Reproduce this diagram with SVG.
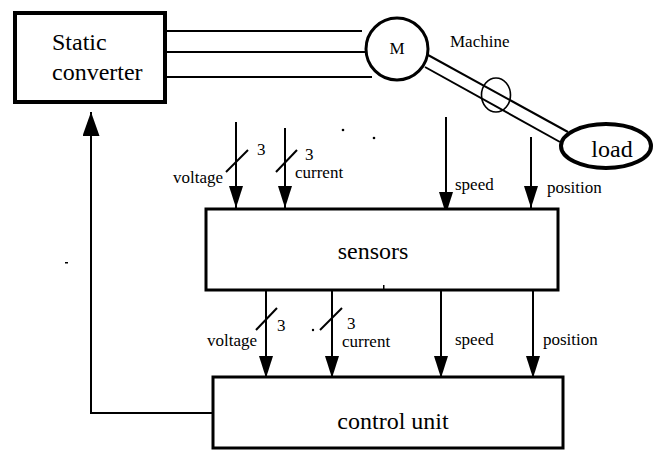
<svg xmlns="http://www.w3.org/2000/svg" width="654" height="450" viewBox="0 0 654 450">
<style>
.box{fill:#fff;stroke:#000}
.ln{stroke:#000;stroke-width:2;fill:none}
.big{font-family:"Liberation Serif","DejaVu Serif","Times New Roman",serif;font-size:24px;fill:#000}
.sm{font-family:"Liberation Serif","DejaVu Serif","Times New Roman",serif;font-size:17px;fill:#000}
.dot{fill:#000}
</style>
<defs>
<marker id="ah" viewBox="0 0 22 14" refX="22" refY="7" markerWidth="22" markerHeight="14" markerUnits="userSpaceOnUse" orient="auto">
<path d="M0,0 L22,7 L0,14 z" fill="#000"/>
</marker>
<marker id="ahb" viewBox="0 0 24 17" refX="24" refY="8.5" markerWidth="24" markerHeight="17" markerUnits="userSpaceOnUse" orient="auto">
<path d="M0,0 L24,8.5 L0,17 z" fill="#000"/>
</marker>
</defs>
<rect width="654" height="450" fill="#fff"/>

<g id="connectors">
<line class="ln" x1="166" y1="31" x2="362" y2="31" stroke-width="1.8"/>
<line class="ln" x1="166" y1="52" x2="365" y2="52" stroke-width="1.8"/>
<line class="ln" x1="166" y1="77" x2="372" y2="77" stroke-width="1.8"/>
<line class="ln" x1="428" y1="55" x2="568" y2="132"/>
<line class="ln" x1="425" y1="67" x2="560" y2="142"/>
<line class="ln" x1="236" y1="122" x2="236" y2="208" marker-end="url(#ah)"/>
<line class="ln" x1="285" y1="128" x2="285" y2="208" marker-end="url(#ah)"/>
<line class="ln" x1="446" y1="117" x2="446" y2="214" marker-end="url(#ah)"/>
<line class="ln" x1="531" y1="137" x2="531" y2="208" marker-end="url(#ah)"/>
<line class="ln" x1="226" y1="172" x2="248" y2="150"/>
<line class="ln" x1="276" y1="172" x2="297" y2="150"/>
<line class="ln" x1="266" y1="290" x2="266" y2="378" marker-end="url(#ah)"/>
<line class="ln" x1="332" y1="290" x2="332" y2="378" marker-end="url(#ah)"/>
<line class="ln" x1="441" y1="290" x2="441" y2="378" marker-end="url(#ah)"/>
<line class="ln" x1="533" y1="290" x2="533" y2="378" marker-end="url(#ah)"/>
<line class="ln" x1="256" y1="330" x2="277" y2="308"/>
<line class="ln" x1="320" y1="330" x2="342" y2="308"/>
<polyline class="ln" stroke-width="3.5" points="213,413 91,413 91,112" marker-end="url(#ahb)"/>
</g>

<g id="static-converter">
<rect class="box" x="15" y="13" width="150" height="89" stroke-width="4"/>
<text class="big" x="52" y="50">Static</text>
<text class="big" x="52" y="80">converter</text>
</g>

<g id="motor">
<circle class="box" cx="397" cy="49" r="31" stroke-width="3"/>
<text class="sm" x="397" y="54" text-anchor="middle" font-size="16">M</text>
<text class="sm" x="450" y="47" font-size="16">Machine</text>
</g>

<g id="coupling">
<ellipse cx="496" cy="95" rx="14.5" ry="17" fill="none" stroke="#000" stroke-width="1.6"/>
</g>

<g id="load">
<ellipse class="box" cx="606" cy="146" rx="45" ry="22" stroke-width="4"/>
<text class="big" x="612" y="157" text-anchor="middle">load</text>
</g>

<g id="sensors">
<rect class="box" x="206" y="209" width="352" height="81" stroke-width="3"/>
<text class="big" x="373" y="259" text-anchor="middle">sensors</text>
</g>

<g id="control-unit">
<rect class="box" x="213" y="377" width="350" height="71" stroke-width="3"/>
<text class="big" x="393" y="429" text-anchor="middle">control unit</text>
</g>

<g id="labels">
<text class="sm" x="223" y="183" text-anchor="end">voltage</text>
<text class="sm" x="257" y="155">3</text>
<text class="sm" x="295" y="178">current</text>
<text class="sm" x="305" y="160">3</text>
<text class="sm" x="455" y="190">speed</text>
<text class="sm" x="547" y="193">position</text>
<text class="sm" x="257" y="346" text-anchor="end">voltage</text>
<text class="sm" x="277" y="331">3</text>
<text class="sm" x="342" y="347">current</text>
<text class="sm" x="347" y="329">3</text>
<text class="sm" x="455" y="345">speed</text>
<text class="sm" x="543" y="345">position</text>
</g>

<g id="specks">
<circle class="dot" cx="343" cy="130" r="1.3"/>
<circle class="dot" cx="374" cy="138" r="1.3"/>
<rect class="dot" x="65" y="262" width="3" height="1.5"/>
<circle class="dot" cx="313" cy="330" r="1.2"/>
<rect class="dot" x="383" y="285" width="1.5" height="4"/>
</g>
</svg>
